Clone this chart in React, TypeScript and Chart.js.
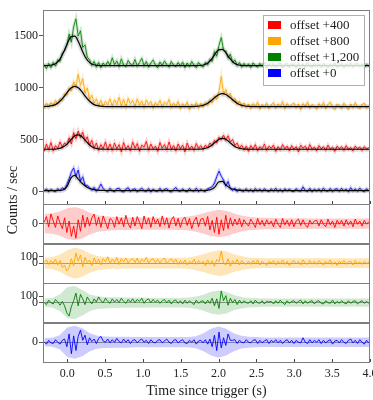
import React, { useEffect, useRef } from "react";
import { Chart, registerables } from "chart.js";

Chart.register(...registerables);

const FONT = "'Liberation Serif', 'DejaVu Serif', serif";

// ---------- axes ----------
const BIN_START = -0.305;
const BIN_WIDTH = 0.03;
const X_MIN = -0.32;
const X_MAX = 4.0;
const X_TICKS = [0, 0.5, 1.0, 1.5, 2.0, 2.5, 3.0, 3.5, 4.0];
const TOP_MIN = -115;
const TOP_MAX = 1750;
const TOP_TICKS = [0, 250, 500, 750, 1000, 1250, 1500, 1750];
const RES_MIN = -310;
const RES_MAX = 310;
const RES_TICKS_400 = [0];
const RES_TICKS_800 = [100, 0];
const RES_TICKS_1200 = [100, 0];
const RES_TICKS_0 = [0];

// ---------- series meta (legend order) ----------
const SERIES_NAMES = ["offset +400", "offset +800", "offset +1,200", "offset +0"];
const OFFSETS = [400, 800, 1200, 0];
const COLORS = ["255,0,0", "255,165,0", "0,128,0", "0,0,255"];

// ---------- binned light curves (counts / sec, before offset) ----------
const COUNTS_400 = [
  -10, 60, 5, 75, -5, 45, 20, 80, 30, 70,
  50, 120, 60, 170, 110, 185, 120, 175, 90, 130,
  50, 95, 20, 70, 0, 55, 15, 80, 5, 60,
  0, 70, 15, 55, -15, 75, 10, 45, -5, 80,
  20, 65, -10, 50, 30, 85, 0, 60, 15, 40,
  -10, 75, 20, 55, 5, 80, 10, 45, -5, 60,
  15, 50, -15, 70, 10, 40, 0, 65, 20, 45,
  5, 50, 25, 70, 45, 95, 70, 125, 100, 145,
  95, 140, 80, 105, 45, 70, 20, 50, 5, 40,
  -10, 45, 10, 55, -5, 35, 15, 60, 0, 40,
  20, 50, -10, 35, 5, 55, 15, 40, -5, 45,
  10, 35, -15, 50, 20, 40, 0, 55, 10, 30,
  -5, 45, 15, 35, 0, 50, 10, 30, -10, 40,
  15, 35, 0, 45, 10, 25, -5, 40, 15, 30,
  0, 35, 10, 25,
];
const COUNTS_800 = [
  0, 55, 15, 60, 30, 80, 45, 95, 80, 140,
  130, 195, 170, 260, 215, 330, 225, 290, 150, 200,
  90, 130, 55, 95, 30, 80, 20, 70, 40, 95,
  25, 85, 40, 110, 30, 90, 15, 100, 45, 80,
  20, 95, 35, 75, 10, 85, 40, 70, 5, 60,
  30, 80, 15, 65, 40, 90, 10, 55, 25, 70,
  0, 50, 20, 65, -10, 45, 15, 60, 5, 50,
  15, 60, 30, 85, 55, 120, 90, 165, 310, 140,
  185, 115, 150, 75, 100, 40, 75, 20, 55, 10,
  45, 0, 50, 20, 65, -5, 40, 15, 55, 0,
  35, 60, 5, 45, 20, 70, 0, 50, 15, 40,
  55, 10, 45, -10, 50, 20, 65, 5, 40, 25,
  -5, 50, 15, 60, 0, 40, 65, 10, -10, 45,
  30, 0, 55, 20, -10, 45, 10, 60, 15, 0,
  40, 55, 5, 30,
];
const COUNTS_1200 = [
  25, -15, 35, -5, 45, 10, 70, 55, 135, 160,
  210, 320, 240, 390, 465, 300, 350, 190, 215, 95,
  70, 15, 55, 0, 45, -5, 40, 10, 55, 20,
  90, 25, 60, 5, 80, 20, 5, 65, 30, 15,
  75, 10, 45, 85, 15, 55, 0, 40, 70, 20,
  -5, 50, 15, 60, 25, 0, 55, 20, 5, 45,
  10, 50, -5, 40, 5, 55, 20, -5, 45, 15,
  0, 45, 20, 75, 55, 150, 105, 210, 285, 165,
  155, 90, 125, 45, 70, 15, 45, 0, 35, 10,
  30, -5, 40, 15, 0, 35, 10, 45, -5, 30,
  10, 35, 0, 30, 40, -5, 25, 35, 0, 30,
  25, -5, 35, 10, 30, 0, 40, 15, -5, 35,
  10, 30, 0, 35, 15, -5, 30, 10, 40, 0,
  15, 35, -5, 30, 10, 40, 0, 25, 35, 5,
  30, 0, 25, 10,
];
const COUNTS_0 = [
  5, 28, 0, 24, 10, 2, 30, 12, 38, 25,
  70, 125, 190, 230, 150, 210, 105, 145, 65, 60,
  40, 15, 42, 5, 32, 75, 30, 12, 0, 34,
  10, 2, 30, 35, 6, -2, 26, 40, 5, 22,
  30, 0, 18, 36, 10, 4, 32, -2, 26, 8,
  5, 34, 2, 25, 30, 8, -2, 22, 42, 10,
  4, 28, 8, 0, 32, 12, 6, 35, 2, 24,
  8, 2, 30, 38, 50, 85, 145, 200, 150, 115,
  55, 100, 30, 14, 35, 2, 26, 8, 4, 30,
  6, 24, 0, 32, 8, 26, 4, 30, 12, 2,
  28, 8, 35, 4, 24, 0, 30, 10, 26, 6,
  2, 30, 10, 6, 48, 12, 4, 34, 0, 26,
  8, 28, 2, 36, 10, 6, 32, 2, 24, 30,
  4, 34, 10, 26, 0, 40, 8, 28, 6, 36,
  12, 2, 30, 8,
];

// ---------- fitted model (counts / sec, before offset) ----------
const MODEL_T = [
  -0.32, -0.25, -0.2, -0.15, -0.1, -0.05, 0, 0.05, 0.1, 0.15,
  0.2, 0.25, 0.3, 0.35, 0.4, 0.45, 0.5, 0.6, 0.8, 1.2,
  1.6, 1.7, 1.75, 1.8, 1.85, 1.9, 1.95, 2.0, 2.05, 2.1,
  2.15, 2.2, 2.25, 2.3, 2.35, 2.4, 2.5, 2.7, 3.2, 3.6, 4.0,
];
const MODEL_400 = [
  10, 10, 10, 12, 18, 33, 62, 103, 139, 149,
  127, 86, 49, 25, 15, 11, 10, 10, 10, 10,
  10, 10, 11, 15, 24, 44, 74, 103, 115, 103,
  74, 44, 24, 15, 11, 10, 10, 10, 10, 10, 10,
];
const MODEL_800 = [
  21, 23, 29, 42, 69, 109, 158, 199, 215, 199,
  158, 109, 69, 42, 29, 23, 21, 20, 20, 20,
  20, 22, 26, 34, 51, 77, 108, 135, 145, 135,
  108, 77, 51, 34, 26, 22, 20, 20, 20, 20, 20,
];
const MODEL_1200 = [
  15, 16, 21, 36, 72, 140, 226, 292, 299, 242,
  156, 83, 41, 23, 17, 15, 15, 15, 15, 15,
  15, 15, 16, 21, 37, 71, 123, 166, 171, 133,
  81, 42, 23, 17, 15, 15, 15, 15, 15, 15, 15,
];
const MODEL_0 = [
  12, 12, 12, 12, 13, 20, 55, 135, 158, 120,
  80, 50, 32, 22, 17, 14, 13, 12, 12, 12,
  12, 12, 12, 13, 15, 22, 45, 95, 100, 65,
  38, 24, 17, 14, 13, 12, 12, 12, 12, 12, 12,
];

// ---------- residuals ----------
const RESID_400 = [
  20, 110, -50, 150, 40, -60, 120, 10, -80, 90,
  -140, 40, -200, -40, -230, 60, -120, 130, -60, 100,
  -40, 90, 150, -30, 100, -60, 120, 20, -80, 80,
  50, -60, 110, -10, 90, -50, 130, 0, -70, 100,
  -40, 110, 20, -80, 120, -10, 90, -60, 110, 0,
  70, -50, 120, -20, 90, -70, 60, 110, -40, 80,
  -60, 60, 100, -30, 80, -80, 40, 100, -50, 70,
  80, -40, 110, -100, 50, -140, 100, -170, 60, -110,
  130, -80, 90, -40, 70, -20, 80, -50, 60, 0,
  -40, 70, 10, -60, 80, -20, 50, -40, 60, -10,
  40, -50, 70, -10, -60, 80, -20, 50, -40, 60,
  -50, 40, 70, -30, 60, -20, -60, 50, -10, 40,
  50, -40, 60, -10, -50, 70, -20, 40, -60, 50,
  -10, 50, -40, 60, -20, 40, -50, 70, -10, 40,
  -40, 50, -10, 30,
];
const RESID_800 = [
  10, 50, -20, 40, 0, 60, -30, 40, -70, -30,
  -120, -70, 70, -40, 160, 30, 130, -60, 90, 10,
  50, -40, 80, 0, 60, -30, 70, 20, 100, -10,
  60, 10, 90, -20, 70, 20, 80, 0, 50, 70,
  10, 80, -10, 60, 20, 90, 0, 50, 70, 10,
  60, 0, 50, 80, -10, 40, 70, 10, 60, -20,
  40, -10, 50, -30, 30, 0, 60, -20, 40, -10,
  30, -40, 50, -20, 40, -50, 60, 20, 190, 0,
  -30, 70, -50, 40, -10, 60, -30, 40, 0, -20,
  30, -20, 40, -10, 50, -30, 30, 0, -40, 30,
  0, 40, -30, 30, -10, 50, -20, 30, -40, 20,
  40, -10, 30, -30, 50, 0, -20, 40, -10, 30,
  -20, 40, 0, -30, 30, -10, 50, -20, 20, -40,
  30, -10, 40, -20, 20, 30, -30, 40, -10, 20,
  -20, 30, -10, 20,
];
const RESID_1200 = [
  0, -30, 40, 0, -20, 50, 10, -40, 20, -50,
  -160, -210, -60, 30, 150, -50, 130, 60, -30, 90,
  30, -20, 60, 10, 90, 30, 0, 70, 20, -10,
  60, 10, 50, 0, 70, 20, -10, 50, 10, 60,
  0, 50, 20, 70, -10, 40, 60, 0, 50, 10,
  40, -10, 30, 50, 0, 40, -20, 30, 40, -10,
  30, -20, 40, -10, 30, 0, -30, 40, -10, 20,
  30, -20, 40, -10, 70, -50, 60, -90, 185, 30,
  110, -40, 70, 0, 50, -30, 40, -10, 30, 0,
  -10, 30, -20, 40, 0, -10, 30, -20, 20, 10,
  20, -20, 30, -10, 40, 0, -30, 30, -10, 20,
  30, -10, 20, 40, -20, 30, -10, 20, 30, -20,
  20, 30, -10, -20, 30, 0, -10, 40, -20, 20,
  -10, 30, 0, -20, 30, -10, 20, 30, -20, 10,
  30, -10, 20, -10,
];
const RESID_0 = [
  10, -30, 30, -10, -20, 40, 0, -30, 30, 50,
  -70, 130, -180, 100, -130, 90, 190, 30, 110, -40,
  70, 10, 50, -20, 60, 90, 20, 0, 50, -10,
  40, 0, 60, 10, -10, 50, 0, 40, -20, 30,
  40, -10, 30, 50, 0, 30, -20, 40, 0, -10,
  30, 40, -10, 20, 50, 0, -20, 30, 40, -10,
  20, 40, -10, -20, 30, 0, 40, -30, 20, 30,
  -10, 40, -30, 50, -70, 110, -130, 160, -90, 70,
  -50, 130, 30, 30, 40, -20, 30, 0, -10, 40,
  0, -10, 30, 40, -20, 30, -10, 20, 40, -20,
  30, 0, 40, -10, 30, -20, 20, 40, -10, 30,
  -20, 30, 0, -10, 70, 0, -20, 40, -10, 30,
  0, 40, -20, 30, -10, 20, 40, -30, 20, 30,
  -10, 40, 0, -20, 30, 50, -10, 30, -20, 40,
  0, -30, 30, -10,
];

// ---------- residual error band half-widths ----------
const BAND_T = [
  -0.3, -0.2, -0.1, 0, 0.1, 0.2, 0.3, 0.4, 0.5, 0.6,
  0.7, 0.8, 0.9, 1.0, 1.1, 1.2, 1.3, 1.4, 1.5, 1.6,
  1.7, 1.8, 1.9, 2.0, 2.1, 2.2, 2.3, 2.4, 2.5, 2.6,
  2.7, 2.8, 2.9, 3.0, 3.1, 3.2, 3.3, 3.4, 3.5, 3.6,
  3.7, 3.8, 3.9, 4.0,
];
const BAND_400 = [
  150, 160, 190, 240, 260, 230, 170, 130, 115, 105,
  100, 100, 95, 95, 95, 95, 95, 95, 100, 110,
  130, 160, 195, 215, 200, 160, 125, 105, 95, 90,
  90, 85, 85, 85, 85, 80, 80, 80, 80, 80,
  80, 80, 80, 80,
];
const BAND_800 = [
  85, 95, 130, 200, 245, 215, 150, 110, 95, 90,
  90, 85, 85, 85, 85, 85, 85, 85, 85, 90,
  110, 140, 180, 200, 185, 140, 110, 90, 80, 75,
  75, 75, 75, 75, 75, 75, 75, 75, 75, 75,
  75, 75, 75, 75,
];
const BAND_1200 = [
  65, 75, 130, 240, 260, 200, 130, 100, 90, 85,
  80, 80, 80, 80, 75, 75, 75, 75, 75, 80,
  95, 125, 170, 190, 170, 120, 90, 75, 70, 65,
  65, 65, 65, 65, 65, 65, 65, 65, 65, 65,
  65, 65, 65, 65,
];
const BAND_0 = [
  65, 70, 110, 230, 260, 220, 140, 100, 90, 85,
  85, 85, 80, 80, 80, 80, 80, 80, 80, 80,
  95, 140, 210, 245, 210, 140, 100, 85, 80, 75,
  75, 75, 75, 75, 75, 75, 75, 75, 75, 75,
  75, 75, 75, 75,
];

const COUNTS = [COUNTS_400, COUNTS_800, COUNTS_1200, COUNTS_0];
const MODELS = [MODEL_400, MODEL_800, MODEL_1200, MODEL_0];
const RESIDS = [RESID_400, RESID_800, RESID_1200, RESID_0];
const BANDS = [BAND_400, BAND_800, BAND_1200, BAND_0];
const RES_TICKS = [RES_TICKS_400, RES_TICKS_800, RES_TICKS_1200, RES_TICKS_0];
const RES_AXES = ["yR400", "yR800", "yR1200", "yR0"];
const BAND_ALPHA = [0.2, 0.28, 0.18, 0.2];

const binTime = (i: number) => BIN_START + i * BIN_WIDTH;

function buildDatasets() {
  const ds: any[] = [];
  for (let s = 0; s < 4; s++) {
    const c = COLORS[s];
    const off = OFFSETS[s];
    const pts = COUNTS[s].map((v, i) => ({ x: binTime(i), y: v + off }));
    const mpts = MODEL_T.map((t, i) => ({ x: t, y: MODELS[s][i] + off }));
    ds.push({
      data: pts, yAxisID: "yTop", pointRadius: 0,
      borderColor: `rgba(${c},0.2)`, borderWidth: 3, order: 40,
    });
    ds.push({
      data: pts, yAxisID: "yTop", pointRadius: 0,
      borderColor: `rgba(${c},0.85)`, borderWidth: 1, order: 30,
    });
    ds.push({
      data: mpts, yAxisID: "yTop", pointRadius: 0, cubicInterpolationMode: "monotone",
      borderColor: "rgba(0,0,0,0.12)", borderWidth: 5, order: 20,
    });
    ds.push({
      data: mpts, yAxisID: "yTop", pointRadius: 0, cubicInterpolationMode: "monotone",
      borderColor: "#000", borderWidth: 1.2, order: 10,
    });
    // residual band
    ds.push({
      data: BAND_T.map((t, i) => ({ x: t, y: BANDS[s][i] })), yAxisID: RES_AXES[s],
      pointRadius: 0, borderWidth: 0, borderColor: "transparent", fill: false, order: 60,
    });
    ds.push({
      data: BAND_T.map((t, i) => ({ x: t, y: -BANDS[s][i] })), yAxisID: RES_AXES[s],
      pointRadius: 0, borderWidth: 0, borderColor: "transparent",
      fill: "-1", backgroundColor: `rgba(${c},${BAND_ALPHA[s]})`, order: 60,
    });
    ds.push({
      data: RESIDS[s].map((v, i) => ({ x: binTime(i), y: v })), yAxisID: RES_AXES[s],
      pointRadius: 0, borderColor: `rgba(${c},0.9)`, borderWidth: 1, order: 50,
    });
  }
  return ds;
}

function yAxis(min: number, max: number, ticks: number[], weight: number, stackWeight: number, zeroLine: boolean) {
  return {
    type: "linear",
    position: "left",
    stack: "panels",
    stackWeight,
    weight,
    min,
    max,
    afterBuildTicks: (sc: any) => { sc.ticks = ticks.map((v) => ({ value: v })); },
    afterFit: (sc: any) => { sc.width = 43; sc.paddingTop = 0; sc.paddingBottom = 0; },
    border: { display: false },
    grid: {
      drawOnChartArea: true,
      drawTicks: true,
      tickLength: 4,
      tickColor: "#555",
      color: (ctx: any) => (zeroLine && ctx.tick && ctx.tick.value === 0 ? "rgba(120,120,120,0.75)" : "rgba(0,0,0,0)"),
      lineWidth: 1,
    },
    ticks: {
      font: { family: FONT, size: 12 }, color: "#222", padding: 1,
      callback: (v: any) => String(v),
    },
  };
}

const decorPlugin = {
  id: "decor",
  afterDatasetsDraw(chart: any) {
    const { ctx, chartArea, scales } = chart;
    const L = chartArea.left, R = chartArea.right;
    ctx.save();
    // panel frames
    ctx.strokeStyle = "#7d7d7d";
    ctx.lineWidth = 1;
    for (const id of ["yTop", ...RES_AXES]) {
      const s = scales[id];
      ctx.strokeRect(Math.round(L) + 0.5, Math.round(s.top) + 0.5, Math.round(R - L) - 1, Math.round(s.bottom - s.top));
    }
    // inside x ticks
    ctx.strokeStyle = "#444";
    const xs = scales.x;
    for (const id of ["yTop", "yR0"]) {
      const b = Math.round(scales[id].bottom);
      for (const v of X_TICKS) {
        const px = Math.round(xs.getPixelForValue(v)) + 0.5;
        ctx.beginPath();
        ctx.moveTo(px, b);
        ctx.lineTo(px, b - 3);
        ctx.stroke();
      }
    }
    // legend
    const top = scales.yTop.top;
    const bx = R - 107, by = top + 5, bw = 101, bh = 70;
    ctx.fillStyle = "rgba(255,255,255,0.82)";
    ctx.fillRect(bx, by, bw, bh);
    ctx.strokeStyle = "#b0b0b0";
    ctx.strokeRect(bx + 0.5, by + 0.5, bw, bh);
    ctx.font = `13px ${FONT}`;
    ctx.textBaseline = "middle";
    ctx.textAlign = "left";
    for (let i = 0; i < SERIES_NAMES.length; i++) {
      const ry = by + 10 + i * 16;
      ctx.fillStyle = `rgb(${COLORS[i]})`;
      ctx.fillRect(bx + 5, ry - 4, 13, 8);
      ctx.fillStyle = "#222";
      ctx.fillText(SERIES_NAMES[i], bx + 27, ry + 1);
    }
    ctx.restore();
  },
  afterDraw(chart: any) {
    const { ctx } = chart;
    ctx.save();
    ctx.translate(13, 200);
    ctx.rotate(-Math.PI / 2);
    ctx.font = `14px ${FONT}`;
    ctx.fillStyle = "#222";
    ctx.textAlign = "center";
    ctx.textBaseline = "middle";
    ctx.fillText("Counts / sec", 0, 0);
    ctx.restore();
  },
};

export default function App() {
  const ref = useRef<HTMLCanvasElement | null>(null);
  useEffect(() => {
    if (!ref.current) return;
    const chart = new Chart(ref.current, {
      type: "line",
      data: { datasets: buildDatasets() },
      options: {
        animation: false,
        responsive: false,
        devicePixelRatio: 1,
        layout: { padding: { left: 0, right: 3, top: 10, bottom: 0 } },
        plugins: { legend: { display: false }, tooltip: { enabled: false } },
        elements: { line: { tension: 0 } },
        scales: {
          x: {
            type: "linear",
            position: "bottom",
            min: X_MIN,
            max: X_MAX,
            afterBuildTicks: (sc: any) => { sc.ticks = X_TICKS.map((v) => ({ value: v })); },
            afterFit: (sc: any) => { sc.height = 38; sc.paddingLeft = 0; sc.paddingRight = 0; },
            border: { display: false },
            grid: { display: false, drawTicks: false },
            ticks: {
              font: { family: FONT, size: 12 }, color: "#222", padding: 5,
              maxRotation: 0, autoSkip: false,
              callback: (v: any) => Number(v).toFixed(1),
            },
            title: {
              display: true, text: "Time since trigger (s)",
              font: { family: FONT, size: 14 }, color: "#222",
              padding: { top: 0, bottom: 0 },
            },
          },
          yR0: yAxis(RES_MIN, RES_MAX, RES_TICKS[3], 1, 1, true),
          yR1200: yAxis(RES_MIN, RES_MAX, RES_TICKS[2], 2, 1, true),
          yR800: yAxis(RES_MIN, RES_MAX, RES_TICKS[1], 3, 1, true),
          yR400: yAxis(RES_MIN, RES_MAX, RES_TICKS[0], 4, 1, true),
          yTop: yAxis(TOP_MIN, TOP_MAX, TOP_TICKS, 5, 4.9, false),
        } as any,
      },
      plugins: [decorPlugin],
    } as any);
    return () => chart.destroy();
  }, []);
  return (
    <div style={{ position: "fixed", left: 0, top: 0, width: 373, height: 400, background: "#fff" }}>
      <canvas ref={ref} width={373} height={400} style={{ display: "block" }} />
    </div>
  );
}
